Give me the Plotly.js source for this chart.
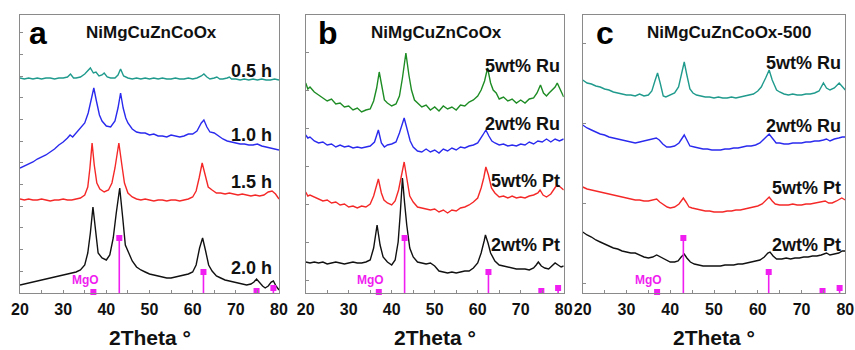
<!DOCTYPE html>
<html>
<head>
<meta charset="utf-8">
<script src="https://cdn.plot.ly/plotly-3.0.1.min.js"></script>
<style>html,body{margin:0;padding:0;background:#fff;}#chart{width:855px;height:350px;}</style>
</head>
<body>
<div id="chart"></div>
<script>
// ---------- Panel a : NiMgCuZnCoOx (milling time) ----------
const xA05 = [20,21,22,23,24,25,26,27,28,29,30,31,31.7,32.4,33,34,35,35.6,36.3,37,37.6,38.3,39,39.5,40.2,41,42,42.7,43.3,44,45,46,47,48,49,50,51,52,53,54,55,56,57,58,59,60,61,62,62.6,63.3,64,65,65.6,66.3,67,68,68.5,69,70,71,72,73,74,75,76,77,78,79,80];
const yA05 = [215,214,215,214,215,214,215,215,214,215,215,216,219,215,215,216,219,222,225,220,221,217,218,220,216,215,215,218,224,217,215,214,215,214,215,214,215,214,215,214,214,215,214,214,215,214,215,217,219,216,214,215,216,214,214,215,216,214,214,213,214,213,214,213,214,213,213,214,213];

const xA10 = [20,21,22,23,24,25,26,27,28,29,30,31,31.6,32.2,33,34,35,35.8,36.5,37.1,37.7,38.4,39,40,41,42,42.7,43.3,43.9,44.5,45,46,47,48,49,50,51,52,53,54,55,56,57,58,59,60,61,62,62.6,63.3,64,65,66,67,68,69,70,71,72,73,74,75,76,77,78,79,80];
const yA10 = [125,127,129,131,134,136,138,141,144,148,151,155,158,156,160,165,170,180,193,205,192,178,172,167,166,172,185,200,185,175,170,164,161,160,160,158,159,157,157,156,158,157,156,157,159,159,162,170,173,166,161,160,157,154,152,151,150,149,149,148,148,149,147,146,145,144,143];

const xA15 = [20,21,22,23,24,25,26,27,28,29,30,31,32,33,34,35,35.7,36.2,36.7,37.2,37.8,38.5,39.5,40.5,41.3,42,42.9,43.6,44.2,45,46,47,48,49,50,51,52,53,54,55,56,57,58,59,60,60.8,61.5,62.2,62.9,63.6,64.5,65.5,66.5,67.5,68.5,69.5,70.5,71.5,72.5,73.5,74.5,75.5,76.5,77.5,78.4,79.2,80];
const yA15 = [94,93,94,93,93,94,93,92,93,93,94,93,93,94,95,98,106,125,150,128,110,104,101,103,110,125,150,128,110,100,96,94,93,94,93,92,93,93,92,93,93,92,93,94,96,102,115,130,118,106,103,100,100,99,100,99,98,99,98,97,98,97,98,101,102,99,94];

const xA20 = [20,21,22,23,24,25,26,27,28,29,30,31,32,33,34,35,35.7,36.3,36.9,37.5,38.1,39,40,40.8,41.6,42.3,43.1,43.8,44.4,45.2,46,47,48,49,50,51,52,53,54,55,56,57,58,59,60,60.8,61.6,62.3,63,63.7,64.5,65.5,66.5,67.5,68.5,69.5,70.5,71.5,72.5,73.5,74.2,74.8,75.5,76.2,76.8,77.5,78.2,78.7,79.3,80];
const yA20 = [8,9,10,11,12,13,14,15,16,17,18,19,20,21,23,28,40,60,86,62,40,35,33,38,55,80,105,75,48,40,32,26,23,21,19,18,17,16,15,15,16,17,18,19,21,28,45,55,42,28,22,17,15,13,12,11,10,9,8,9,11,14,10,7,5,7,11,12,7,3];

// ---------- Panel b : NiMgCuZnCoOx loaded ----------
const xB5Ru = [20,20.5,21,22,23,24,25,26,27,28,29,30,31,32,33,34,35,35.8,36.5,37.1,37.7,38.3,39,40,41,41.8,42.5,43.3,44,44.6,45.3,46,47,48,49,50,51,52,53,54,55,56,57,58,59,60,60.8,61.6,62.3,63,63.6,64.3,65,66,67,68,69,70,71,72,73,73.8,74.6,75.3,76,76.6,77.3,78,78.5,79.2,80];
const yB5Ru = [210,204,206,201,198,195,192,194,189,190,186,187,183,185,181,183,184,192,205,221,205,193,190,187,189,197,215,240,218,203,193,190,186,188,183,186,182,187,184,186,183,188,187,191,193,197,203,212,225,210,203,200,194,196,192,194,190,193,190,194,195,200,208,200,197,200,203,206,210,204,196];

const xB2Ru = [20,20.5,21,22,23,24,25,26,27,28,29,30,31,32,33,34,35,36,36.9,37.6,38.3,39,40,41,41.8,42.9,43.6,44.3,45,46,47,48,49,50,51,52,53,54,55,56,57,58,59,60,61.2,61.9,62.6,63.3,64,65,66,67,68,69,70,71,72,73,74,75,76,77,78,79,80];
const yB2Ru = [158,155,156,152,150,151,148,149,146,148,146,147,145,146,145,146,147,151,163,150,146,148,149,151,160,175,162,152,146,142,141,144,141,143,140,144,142,145,143,146,145,147,148,150,158,163,157,152,150,148,149,147,148,147,149,148,151,149,152,151,154,151,154,152,154];

const xB5Pt = [20,20.5,21,22,23,24,25,26,27,28,29,30,31,32,33,34,35,35.8,36.9,37.6,38.2,39,40,40.8,41.6,42.3,42.9,43.5,44.2,45,46,47,48,49,50,51,52,53,54,55,56,57,58,59,60,60.8,61.4,61.9,62.5,63.2,64,65,66,67,68,69,70,71,72,73,74,74.5,75.2,76,77,77.8,78.4,79.2,80];
const yB5Pt = [101,97,98,96,94,92,93,90,91,88,89,86,87,85,87,86,89,97,114,100,93,90,88,92,103,118,131,115,97,91,86,85,84,83,84,81,83,80,83,82,85,86,88,91,95,105,115,126,118,105,100,96,97,95,97,95,96,95,97,98,100,103,98,96,99,104,108,106,103];

const xB2Pt = [20,21,22,23,24,25,26,27,28,29,30,31,32,33,34,35,35.8,36.6,37.3,38,39,40,40.8,41.5,42,42.5,43,43.5,44.2,45,46,47,48,49,50,51,52,53,54,55,56,57,58,59,60,60.8,61.5,61.8,62.4,63,64,65,66,67,68,69,70,71,72,73,73.6,74.1,74.8,75.6,76.5,77.3,78,78.7,79.4,80];
const yB2Pt = [31,30,31,30,31,29,30,31,30,29,30,31,30,30,31,33,45,68,48,36,31,28,33,51,80,115,90,68,45,36,31,30,29,30,27,22,21,20,21,20,21,22,22,25,30,40,52,58,50,40,32,28,27,26,25,24,24,24,23,25,28,31,27,25,24,27,30,28,26,27];

// ---------- Panel c : NiMgCuZnCoOx-500 loaded ----------
const xC5Ru = [20,21,22,23,24,25,26,27,28,29,30,31,32,33,34,35,35.8,36.5,37.1,37.7,38.4,39,40,41,41.9,42.6,43.2,43.8,44.5,45.2,46,47,48,49,50,51,52,53,54,55,56,57,58,59,60,60.8,61.8,62.6,63.3,64.3,65,66,67,68,69,70,71,72,73,74,75,75.7,76.5,77.5,78.6,79.4,80];
const yC5Ru = [213,210,209,207,206,204,203,201,200,199,198,198,197,199,197,198,202,212,220,210,197,196,198,200,206,220,231,218,204,200,198,197,196,196,195,196,195,195,196,195,196,197,198,199,202,206,215,223,213,203,201,199,198,199,198,198,199,199,200,202,210,205,203,205,210,206,203];

const xC2Ru = [20,21,22,23,24,25,26,27,28,29,30,31,32,33,34,35,36,36.8,37.5,38.3,39.2,40,41,42,42.6,43.2,43.8,44.5,45.5,46.5,47.5,48.5,49.5,50.5,51.5,52.5,53.5,54.5,55.5,56.5,57.5,58.5,59.5,60.5,61.5,62.6,63.3,64.2,65,66,67,68,69,70,71,72,73,74,75,75.7,76.5,77.5,78.5,79.3,80];
const yC2Ru = [168,165,163,161,159,158,156,155,154,153,152,151,150,151,152,153,154,155,153,149,146,146,147,150,154,158,153,147,146,145,144,144,143,143,143,144,144,145,145,146,147,147,148,150,154,159,155,150,150,149,149,150,150,150,151,151,152,152,153,154,152,154,155,156,156];

const xC5Pt = [20,21,22,23,24,25,26,27,28,29,30,31,32,33,34,35,36,36.9,37.6,38.5,39.3,40,41,42,42.6,43,43.6,44.3,45,46,47,48,49,50,51,52,53,54,55,56,57,58,59,60,61,62,62.6,63.3,64,65,66,67,68,69,70,71,72,73,74,75.4,76.2,77,78,79.2,80];
const yC5Pt = [106,104,103,102,101,100,99,98,97,96,95,94,93,93,92,92,93,94,91,88,86,85,86,89,93,95,91,86,85,84,83,82,82,81,81,81,82,82,83,83,84,85,86,87,89,94,96,92,89,88,88,88,89,88,88,89,89,90,91,92,90,90,92,95,93];

const xC2Pt = [20,21,22,23,24,25,26,27,28,29,30,31,32,33,34,35,36,36.9,37.8,38.8,40,41,41.8,42.5,43.2,43.8,44.6,45.5,46.5,47.5,48.5,49.5,50.5,51.5,52.5,53.5,54.5,55.5,56.5,57.5,58.5,59.5,60.5,61.5,62.3,62.8,63.5,64.3,65.5,66.5,67.5,68.5,69.5,70.5,71.5,72.5,73.5,74.5,75.7,76.5,77.5,78.5,79.3,80];
const yC2Pt = [61,58,56,53,51,49,47,45,44,42,41,40,40,38,36,35,36,38,36,33,31,31,32,36,39,35,31,29,28,27,27,27,27,27,28,28,28,29,29,30,31,32,33,36,40,41,37,34,34,35,34,35,35,36,36,37,37,38,40,38,39,40,42,42];

// ---------- MgO reference pattern ----------
const mgoPos = [37.0, 43.0, 62.5, 74.8, 78.7];
const mgoInt = [1, 55, 21, 2, 5];

// ---------- labels ----------
const panelLetters = ['a', 'b', 'c'];
const panelTitles = ['NiMgCuZnCoOx', 'NiMgCuZnCoOx', 'NiMgCuZnCoOx-500'];
const labelsA = ['0.5 h', '1.0 h', '1.5 h', '2.0 h'];
const labelsBC = ['5wt% Ru', '2wt% Ru', '5wt% Pt', '2wt% Pt'];
const xTickVals = [20, 30, 40, 50, 60, 70, 80];
const xTitle = '2Theta °';

// ---------- styling ----------
const FONT = 'Arial, "Liberation Sans", sans-serif';
const C_TEAL = '#1f9a8c', C_BLUE = '#2a2aee', C_RED = '#f52828', C_BLACK = '#111111', C_GREEN = '#1e8c24', C_MAG = '#f01ef0';

function line(x, y, color, ax) {
  return {x: x, y: y, type: 'scatter', mode: 'lines', line: {color: color, width: 1.4},
          xaxis: 'x' + ax, yaxis: 'y' + ax, hoverinfo: 'skip', showlegend: false};
}
function sticks(ax) {
  const xs = [], ys = [];
  mgoPos.forEach((p, i) => { xs.push(p, p, null); ys.push(0, mgoInt[i], null); });
  return [
    {x: xs, y: ys, type: 'scatter', mode: 'lines', line: {color: C_MAG, width: 1.6},
     xaxis: 'x' + ax, yaxis: 'y' + ax, showlegend: false, hoverinfo: 'skip', cliponaxis: false},
    {x: mgoPos, y: mgoInt, type: 'scatter', mode: 'markers', marker: {symbol: 'square', size: 6, color: C_MAG},
     xaxis: 'x' + ax, yaxis: 'y' + ax, showlegend: false, hoverinfo: 'skip', cliponaxis: false}
  ];
}

const traces = [
  line(xA05, yA05, C_TEAL, ''), line(xA10, yA10, C_BLUE, ''), line(xA15, yA15, C_RED, ''), line(xA20, yA20, C_BLACK, ''),
  ...sticks(''),
  line(xB5Ru, yB5Ru, C_GREEN, '2'), line(xB2Ru, yB2Ru, C_BLUE, '2'), line(xB5Pt, yB5Pt, C_RED, '2'), line(xB2Pt, yB2Pt, C_BLACK, '2'),
  ...sticks('2'),
  line(xC5Ru, yC5Ru, C_TEAL, '3'), line(xC2Ru, yC2Ru, C_BLUE, '3'), line(xC5Pt, yC5Pt, C_RED, '3'), line(xC2Pt, yC2Pt, C_BLACK, '3'),
  ...sticks('3')
];

const W = 855, H = 350;
const yDom = [1 - 293 / H, 1 - 15 / H];
function xaxis(d0, d1, anchor) {
  return {domain: [d0 / W, d1 / W], range: [20, 80], anchor: anchor,
          showline: true, mirror: true, linecolor: '#8a8a8a', linewidth: 1,
          ticks: 'inside', ticklen: 3, tickcolor: '#8a8a8a', tickvals: xTickVals,
          minor: {dtick: 5, tick0: 0, ticks: 'inside', ticklen: 3, tickcolor: '#8a8a8a'},
          showgrid: false, zeroline: false,
          tickfont: {family: FONT, size: 16, color: '#111', weight: 'bold'}, ticklabelstandoff: 2};
}
function yaxis(anchor, t0, dt) {
  return {domain: yDom, range: [0, 278], anchor: anchor,
          showline: true, mirror: true, linecolor: '#8a8a8a', linewidth: 1,
          ticks: 'inside', ticklen: 3, tickcolor: '#8a8a8a', tick0: t0, dtick: dt,
          showticklabels: false, showgrid: false, zeroline: false};
}

const ann = [];
const axs = ['', '2', '3'];
const letterX = [24.2, 25.3, 25.1];
const titleX = [50.5, 50.5, 53.5];
axs.forEach((a, i) => {
  ann.push({xref: 'x' + a, yref: 'y' + a, x: letterX[i], y: 260, text: '<b>' + panelLetters[i] + '</b>',
            showarrow: false, font: {family: FONT, size: 32, color: '#000'}, xanchor: 'center', yanchor: 'middle'});
  ann.push({xref: 'x' + a, yref: 'y' + a, x: titleX[i], y: 260, text: '<b>' + panelTitles[i] + '</b>',
            showarrow: false, font: {family: FONT, size: 17, color: '#111'}, xanchor: 'center', yanchor: 'middle'});
  ann.push({xref: 'x' + a, yref: 'y' + a, x: 35.1, y: 13, text: '<b>MgO</b>',
            showarrow: false, font: {family: FONT, size: 12, color: C_MAG}, xanchor: 'center', yanchor: 'middle'});
});
const LBL = 18;
const labYA = [222, 158, 111, 25];
labelsA.forEach((t, i) => ann.push({xref: 'x', yref: 'y', x: 78.8, y: labYA[i], text: '<b>' + t + '</b>', showarrow: false,
  font: {family: FONT, size: LBL, color: '#111'}, xanchor: 'right', yanchor: 'middle'}));
const labYB = [227, 169, 112, 48];
labelsBC.forEach((t, i) => ann.push({xref: 'x2', yref: 'y2', x: 79.6, y: labYB[i], text: '<b>' + t + '</b>', showarrow: false,
  font: {family: FONT, size: LBL, color: '#111'}, xanchor: 'right', yanchor: 'middle'}));
const labYC = [230, 167, 105, 48];
labelsBC.forEach((t, i) => ann.push({xref: 'x3', yref: 'y3', x: 79.4, y: labYC[i], text: '<b>' + t + '</b>', showarrow: false,
  font: {family: FONT, size: LBL, color: '#111'}, xanchor: 'right', yanchor: 'middle'}));
// x axis titles
const panelCenters = [(20 + 279) / 2, (305.7 + 563.7) / 2, (582.7 + 845.3) / 2];
panelCenters.forEach(c => ann.push({xref: 'paper', yref: 'paper', x: c / W, y: 1 - 337 / H, text: '<b>' + xTitle + '</b>',
  showarrow: false, font: {family: FONT, size: 21, color: '#111'}, xanchor: 'center', yanchor: 'middle'}));

const layout = {
  width: W, height: H, margin: {l: 0, r: 0, t: 0, b: 0}, paper_bgcolor: '#fff', plot_bgcolor: '#fff',
  showlegend: false,
  xaxis: xaxis(20, 279, 'y'), yaxis: yaxis('x', 0, 21.7),
  xaxis2: xaxis(305.7, 563.7, 'y2'), yaxis2: yaxis('x2', 13, 38),
  xaxis3: xaxis(582.7, 845.3, 'y3'), yaxis3: yaxis('x3', 10, 80),
  annotations: ann
};

Plotly.newPlot('chart', traces, layout, {staticPlot: true, displayModeBar: false});
</script>
</body>
</html>
